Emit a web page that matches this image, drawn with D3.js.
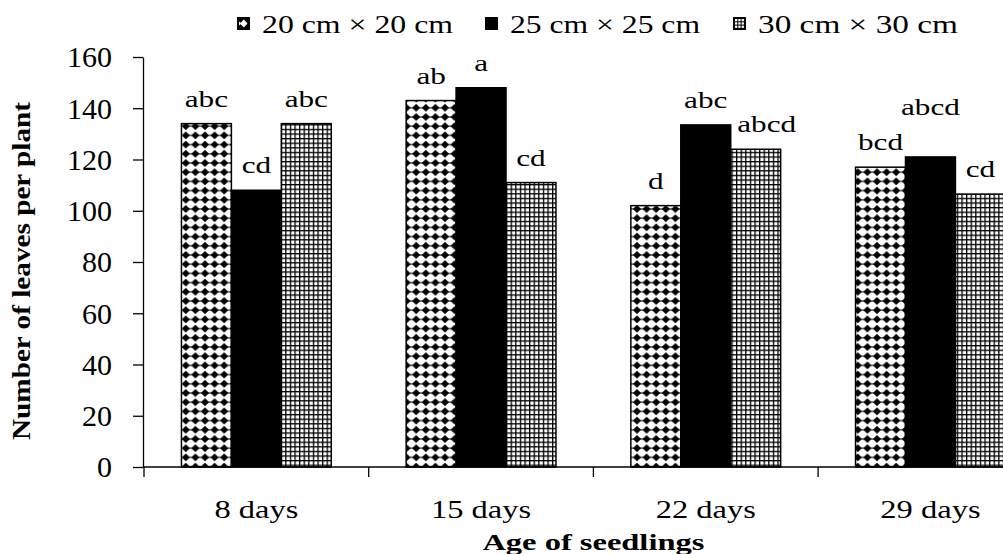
<!DOCTYPE html>
<html>
<head>
    <meta charset="utf-8">
    <title>Number of leaves per plant</title>
    <script src="https://d3js.org/d3.v7.min.js"></script>
    <style>
        body { margin: 0; background: #fff; }
        svg { display: block; }
        text { font-family: "Liberation Serif", "Times New Roman", serif; fill: #000; }
        .title { font-weight: bold; }
    </style>
</head>
<body>
<div id="chart"></div>
<script>
    // data
    const ages = ["8 days", "15 days", "22 days", "29 days"];
    const spacings = ["20 cm × 20 cm", "25 cm × 25 cm", "30 cm × 30  cm"];
    const leaves20 = [134, 143, 102, 117];
    const leaves25 = [108, 148, 133.5, 121];
    const leaves30 = [134, 111, 124, 106.5];
    const letters20 = ["abc", "ab", "d", "bcd"];
    const letters25 = ["cd", "a", "abc", "abcd"];
    const letters30 = ["abc", "cd", "abcd", "cd"];
    const yTicks = [0, 20, 40, 60, 80, 100, 120, 140, 160];

    const width = 1003, height = 554;
    const plotLeft = 144, plotTop = 57, plotBottom = 467;
    const step = 224.7;

    const svg = d3.select("#chart").append("svg")
        .attr("width", width)
        .attr("height", height);

    // fill patterns
    const defs = svg.append("defs");
    const dia = defs.append("pattern")
        .attr("id", "diamonds")
        .attr("patternUnits", "userSpaceOnUse")
        .attr("width", 9.6).attr("height", 9.2)
        .attr("x", 181).attr("y", 2);
    dia.append("rect").attr("width", 9.6).attr("height", 9.2).attr("fill", "#fff");
    dia.append("path")
        .attr("d", "M4.8,0.6 L8.9,4.6 L4.8,8.6 L0.7,4.6 Z")
        .attr("fill", "#000");
    dia.append("rect").attr("x", 0).attr("y", 4.1).attr("width", 9.6).attr("height", 1).attr("fill", "#000");

    const grid = defs.append("pattern")
        .attr("id", "grid")
        .attr("patternUnits", "userSpaceOnUse")
        .attr("width", 4.6).attr("height", 4.6);
    grid.append("rect").attr("width", 4.6).attr("height", 4.6).attr("fill", "#000");
    grid.append("rect").attr("x", 1.3).attr("y", 1.3).attr("width", 3.3).attr("height", 3.3).attr("fill", "#fff");

    const fills = ["url(#diamonds)", "#000", "url(#grid)"];

    // scales
    const x = d3.scaleBand().domain(ages).range([plotLeft, plotLeft + step * ages.length]);
    const xs = d3.scaleBand().domain(spacings).range([step / 6, step * 5 / 6]);
    const y = d3.scaleLinear().domain([0, 160]).range([plotBottom, plotTop]);

    const series = [leaves20, leaves25, leaves30];
    const letters = [letters20, letters25, letters30];
    const rows = [];
    series.forEach((vals, s) => vals.forEach((v, i) => rows.push({
        age: ages[i], s: s, key: spacings[s], value: v, letter: letters[s][i]
    })));

    // bars
    svg.append("g").selectAll("rect")
        .data(rows)
        .join("rect")
        .attr("x", d => x(d.age) + xs(d.key))
        .attr("y", d => y(d.value))
        .attr("width", xs.bandwidth())
        .attr("height", d => y(0) - y(d.value))
        .attr("fill", d => fills[d.s])
        .attr("stroke", "#000")
        .attr("stroke-width", 1.5);

    // significance letters, a couple are nudged off their bar like in the original
    const nudge = { "22 days|2": [11, 0], "29 days|1": [0, -25] };
    svg.append("g").selectAll("text")
        .data(rows)
        .join("text")
        .attr("transform", d => {
            const n = nudge[d.age + "|" + d.s] || [0, 0];
            const cx = x(d.age) + xs(d.key) + xs.bandwidth() / 2 + n[0];
            return `translate(${cx},${y(d.value) - 17 + n[1]}) scale(1.3,1)`;
        })
        .attr("text-anchor", "middle")
        .style("font-size", "24px")
        .text(d => d.letter);

    // y axis
    const yAxis = svg.append("g")
        .attr("transform", `translate(${plotLeft - 1},0)`)
        .call(d3.axisLeft(y).tickValues(yTicks).tickSize(10).tickPadding(21).tickSizeOuter(0));
    yAxis.selectAll("path, line").attr("stroke", "#000").attr("stroke-width", 1.3);
    yAxis.selectAll("text")
        .style("font-family", "'Liberation Serif', serif")
        .style("font-size", "30px")
        .attr("dy", "0.33em");

    // x axis line, ticks on category boundaries, labels centred
    const xg = svg.append("g");
    xg.append("line")
        .attr("x1", plotLeft - 1).attr("x2", width)
        .attr("y1", y(0)).attr("y2", y(0))
        .attr("stroke", "#000").attr("stroke-width", 1.3);
    xg.selectAll(".bt")
        .data(ages)
        .join("line")
        .attr("class", "bt")
        .attr("x1", d => x(d)).attr("x2", d => x(d))
        .attr("y1", y(0)).attr("y2", y(0) + 10)
        .attr("stroke", "#000").attr("stroke-width", 1.3);
    xg.selectAll("text")
        .data(ages)
        .join("text")
        .attr("transform", d => `translate(${x(d) + x.bandwidth() / 2},518) scale(1.25,1)`)
        .attr("text-anchor", "middle")
        .style("font-size", "26px")
        .text(d => d);

    // axis titles
    svg.append("text")
        .attr("class", "title")
        .attr("x", plotLeft + step * 2).attr("y", 550)
        .attr("text-anchor", "middle")
        .attr("textLength", 222).attr("lengthAdjust", "spacingAndGlyphs")
        .style("font-size", "24px")
        .text("Age of seedlings");
    svg.append("text")
        .attr("class", "title")
        .attr("transform", "translate(30,271) rotate(-90)")
        .attr("text-anchor", "middle")
        .attr("textLength", 338).attr("lengthAdjust", "spacingAndGlyphs")
        .style("font-size", "25px")
        .text("Number of leaves per plant");

    // legend
    const legendX = [237, 485, 733];
    const legendW = [191, 190, 200];
    const lg = svg.append("g");
    spacings.forEach((name, i) => {
        const g = lg.append("g").attr("transform", `translate(${legendX[i]},17)`);
        g.append("rect").attr("width", 13).attr("height", 13).attr("fill", "#000");
        if (i === 0) {
            g.append("path").attr("d", "M6.8,2.5 L10.5,6.5 L6.8,10.5 L3,6.5 Z M2,4.5 L4.5,6.5 L2,8.5 Z").attr("fill", "#fff");
        }
        if (i === 2) {
            for (let r = 0; r < 3; r++) for (let c = 0; c < 3; c++) {
                g.append("rect").attr("x", 2 + c * 3.3).attr("y", 2 + r * 3.3)
                    .attr("width", 2.3).attr("height", 2.3).attr("fill", "#fff");
            }
        }
        g.append("text")
            .attr("x", 25).attr("y", 16)
            .attr("textLength", legendW[i]).attr("lengthAdjust", "spacingAndGlyphs")
            .style("font-size", "26px")
            .text(name);
    });
</script>
</body>
</html>
